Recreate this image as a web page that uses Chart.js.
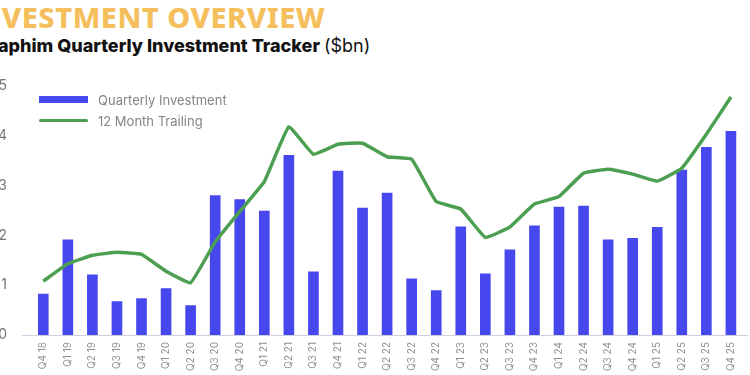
<!DOCTYPE html>
<html>
<head>
<meta charset="utf-8">
<script src="https://cdn.jsdelivr.net/npm/chart.js@4.4.1/dist/chart.umd.min.js"></script>
<style>
  html, body { margin: 0; padding: 0; background: #fff; }
  body { width: 750px; height: 375px; overflow: hidden; position: relative; font-family: Inter, "Noto Sans", sans-serif; }
  #title { position: absolute; left: -35px; top: -3px; font-family: "Noto Sans", sans-serif; font-weight: 800; font-size: 29px; color: #f4bf5c; letter-spacing: 0.5px; white-space: nowrap; }
  #subtitle { position: absolute; left: -32px; top: 35px; font-size: 18px; font-weight: 800; color: #111; white-space: nowrap; }
  #subtitle span { font-weight: 400; }
  #legend { position: absolute; left: 39px; top: 89px; font-size: 13px; color: #858585; }
  .item { height: 21px; display: flex; align-items: center; }
  .sw { width: 49px; margin-right: 10px; }
  #wrap { position: absolute; left: -12px; top: 0; width: 762px; height: 375px; }
</style>
</head>
<body>
<div id="title">INVESTMENT OVERVIEW</div>
<div id="subtitle">Seraphim Quarterly Investment Tracker <span>($bn)</span></div>
<div id="wrap"><canvas id="chart"></canvas></div>
<div id="legend">
  <div class="item"><div class="sw" style="height:7px;background:#4747ee"></div>Quarterly Investment</div>
  <div class="item"><div class="sw" style="height:3.5px;background:#4c9f50;border-radius:2px"></div>12 Month Trailing</div>
</div>
<script>
// quarters from Q4 18 to Q4 25
const quarters = ['Q4 18','Q1 19','Q2 19','Q3 19','Q4 19','Q1 20','Q2 20','Q3 20','Q4 20',
  'Q1 21','Q2 21','Q3 21','Q4 21','Q1 22','Q2 22','Q3 22','Q4 22','Q1 23','Q2 23','Q3 23',
  'Q4 23','Q1 24','Q2 24','Q3 24','Q4 24','Q1 25','Q2 25','Q3 25','Q4 25'];

// $bn per quarter
const quarterly = [0.82, 1.91, 1.21, 0.67, 0.73, 0.93, 0.59, 2.80, 2.72,
  2.49, 3.61, 1.27, 3.29, 2.55, 2.85, 1.13, 0.89, 2.17, 1.23, 1.71,
  2.19, 2.57, 2.59, 1.91, 1.94, 2.16, 3.31, 3.77, 4.09];

// 12 month trailing
const trailing = [1.08, 1.43, 1.60, 1.66, 1.62, 1.28, 1.05, 1.87, 2.48,
  3.08, 4.18, 3.63, 3.83, 3.85, 3.58, 3.53, 2.68, 2.53, 1.96, 2.17,
  2.63, 2.78, 3.25, 3.33, 3.23, 3.09, 3.35, 4.03, 4.78];

const yTicks = [0, 1, 2, 3, 4, 5];

const baseLine = {
  id: 'baseLine',
  afterDatasetsDraw(chart) {
    const ctx = chart.ctx;
    const y = chart.scales.y.getPixelForValue(0);
    ctx.save();
    ctx.strokeStyle = '#cfcfe0';
    ctx.lineWidth = 1;
    ctx.beginPath();
    ctx.moveTo(34, Math.round(y) + 0.5);
    ctx.lineTo(760, Math.round(y) + 0.5);
    ctx.stroke();
    ctx.restore();
  }
};

new Chart(document.getElementById('chart'), {
  data: {
    labels: quarters,
    datasets: [
      {
        type: 'line',
        label: '12 Month Trailing',
        data: trailing,
        borderColor: '#4c9f50',
        borderWidth: 3.5,
        pointRadius: 0,
        tension: 0.1,
        borderJoinStyle: 'round',
        order: 0
      },
      {
        type: 'bar',
        label: 'Quarterly Investment',
        data: quarterly,
        backgroundColor: '#4747ee',
        barThickness: 10,
        order: 1
      }
    ]
  },
  options: {
    responsive: true,
    maintainAspectRatio: false,
    animation: false,
    layout: { padding: { top: 86, right: 5, left: 0, bottom: 0 } },
    plugins: { legend: { display: false }, tooltip: { enabled: false } },
    scales: {
      x: {
        grid: { display: false, drawTicks: false },
        border: { display: false },
        ticks: {
          color: '#8f8f8f',
          font: { family: 'Inter', size: 10 },
          minRotation: 90,
          maxRotation: 90,
          padding: 7,
          autoSkip: false
        },
        afterFit(scale) { scale.height = 40; }
      },
      y: {
        min: 0,
        max: 5,
        afterBuildTicks(scale) { scale.ticks = yTicks.map(v => ({ value: v })); },
        grid: { display: false, drawTicks: false },
        border: { display: false },
        ticks: {
          color: '#777',
          font: { family: 'Inter', size: 14 },
          padding: 24
        },
        afterFit(scale) { scale.width = 43; }
      }
    }
  },
  plugins: [baseLine]
});
</script>
</body>
</html>
